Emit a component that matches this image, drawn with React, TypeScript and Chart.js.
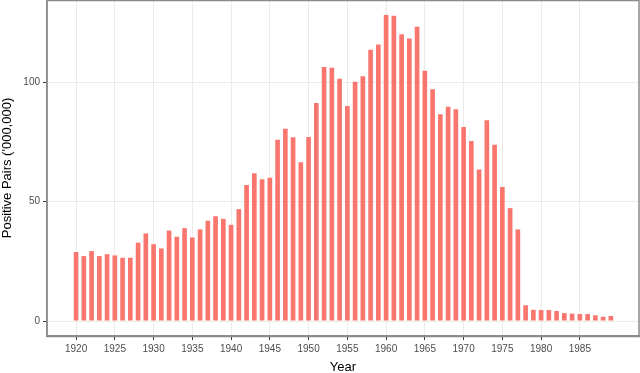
import React, { useEffect, useRef } from "react";
import { Chart, registerables } from "chart.js";

Chart.register(...registerables);

const years: number[] = [
  1920, 1921, 1922, 1923, 1924, 1925, 1926, 1927, 1928, 1929,
  1930, 1931, 1932, 1933, 1934, 1935, 1936, 1937, 1938, 1939,
  1940, 1941, 1942, 1943, 1944, 1945, 1946, 1947, 1948, 1949,
  1950, 1951, 1952, 1953, 1954, 1955, 1956, 1957, 1958, 1959,
  1960, 1961, 1962, 1963, 1964, 1965, 1966, 1967, 1968, 1969,
  1970, 1971, 1972, 1973, 1974, 1975, 1976, 1977, 1978, 1979,
  1980, 1981, 1982, 1983, 1984, 1985, 1986, 1987, 1988, 1989,
];

const positivePairs: number[] = [
  28.9, 27.2, 29.3, 27.2, 28.0, 27.5, 26.5, 26.5, 32.8, 36.7,
  32.2, 30.4, 37.9, 35.3, 38.9, 35.0, 38.4, 42.0, 43.9, 42.8,
  40.3, 46.9, 57.0, 61.9, 59.4, 60.0, 75.9, 80.6, 77.0, 66.5,
  77.1, 91.3, 106.4, 106.1, 101.5, 90.1, 100.3, 102.5, 113.7, 115.9,
  128.2, 127.9, 120.1, 118.4, 123.3, 104.9, 97.1, 86.6, 89.8, 88.7,
  81.3, 75.4, 63.5, 84.1, 73.9, 56.2, 47.3, 38.4, 6.6, 4.7,
  4.6, 4.6, 4.2, 3.3, 3.1, 2.9, 2.9, 2.4, 1.8, 2.1,
];

const xTickValues: number[] = [1920, 1925, 1930, 1935, 1940, 1945, 1950, 1955, 1960, 1965, 1970, 1975, 1980, 1985];
const yTickValues: number[] = [0, 50, 100];

const xTitle = "Year";
const yTitle = "Positive Pairs ('000,000)";

const panelBorder = {
  id: "panelBorder",
  afterDraw(chart: any) {
    const { ctx, chartArea } = chart;
    ctx.save();
    ctx.strokeStyle = "#8a8a8a";
    ctx.lineWidth = 1.5;
    ctx.strokeRect(chartArea.left, chartArea.top + 0.5, chartArea.right - chartArea.left, chartArea.bottom - chartArea.top);
    ctx.restore();
  },
};

const zeroPadding = (axis: any) => {
  axis.paddingTop = 0;
  axis.paddingBottom = 0;
  axis.paddingLeft = 0;
  axis.paddingRight = 0;
};

export default function App() {
  const ref = useRef<HTMLCanvasElement | null>(null);

  useEffect(() => {
    document.body.style.margin = "0";
    const canvas = ref.current;
    if (!canvas) return;
    const chart = new Chart(canvas, {
      type: "bar",
      data: {
        datasets: [
          {
            data: years.map((y, i) => ({ x: y, y: positivePairs[i] })),
            backgroundColor: "#F8766D",
            borderWidth: 0,
            barPercentage: 0.6,
            categoryPercentage: 1,
          },
        ],
      },
      options: {
        animation: false,
        responsive: false,
        maintainAspectRatio: false,
        layout: { padding: { top: 0, right: 1, left: 0, bottom: 0 } },
        plugins: {
          legend: { display: false },
          tooltip: { enabled: false },
        },
        scales: {
          x: {
            type: "linear",
            min: 1916.25,
            max: 1992.63,
            offset: false,
            afterBuildTicks: (axis: any) => {
              axis.ticks = xTickValues.map((v) => ({ value: v }));
            },
            afterFit: (axis: any) => {
              axis.height = 37;
              zeroPadding(axis);
            },
            grid: {
              offset: false,
              color: "#ebebeb",
              lineWidth: 1,
              drawTicks: true,
              tickLength: 4,
              tickColor: "#333333",
            },
            border: { display: true, color: "#8a8a8a", width: 1.5 },
            ticks: {
              autoSkip: false,
              maxRotation: 0,
              padding: 3,
              color: "#4d4d4d",
              font: { family: "'Liberation Sans', Arial, sans-serif", size: 10 },
              callback: (v: any) => String(v),
            },
            title: {
              display: true,
              text: xTitle,
              color: "#000000",
              font: { family: "'Liberation Sans', Arial, sans-serif", size: 13, lineHeight: 1 },
              padding: { top: 0, bottom: -1 },
            },
          },
          y: {
            type: "linear",
            min: -6.28,
            max: 134.5,
            afterBuildTicks: (axis: any) => {
              axis.ticks = yTickValues.map((v) => ({ value: v }));
            },
            afterFit: (axis: any) => {
              axis.width = 47;
              zeroPadding(axis);
            },
            grid: {
              color: "#ebebeb",
              lineWidth: 1,
              drawTicks: true,
              tickLength: 4,
              tickColor: "#333333",
            },
            border: { display: true, color: "#8a8a8a", width: 1.5 },
            ticks: {
              padding: 3,
              color: "#4d4d4d",
              font: { family: "'Liberation Sans', Arial, sans-serif", size: 10 },
              callback: (v: any) => String(v),
            },
            title: {
              display: true,
              text: yTitle,
              color: "#000000",
              font: { family: "'Liberation Sans', Arial, sans-serif", size: 13 },
              padding: { top: 0, bottom: 0 },
            },
          },
        },
      },
      plugins: [panelBorder],
    });
    return () => chart.destroy();
  }, []);

  return <canvas ref={ref} width={640} height={373} style={{ display: "block", width: 640, height: 373 }} />;
}
